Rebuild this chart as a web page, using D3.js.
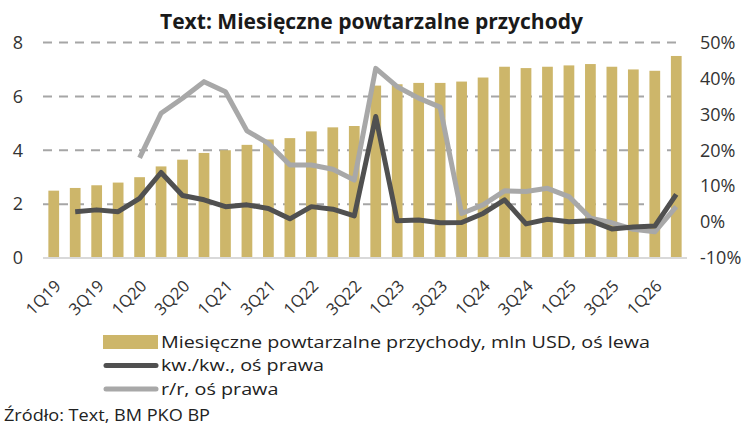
<!DOCTYPE html>
<html>
<head>
<meta charset="utf-8">
<script src="https://cdn.jsdelivr.net/npm/d3@7"></script>
<style>
  body { margin: 0; background: #fff; }
  text { font-family: "Open Sans", "Noto Sans", sans-serif; }
</style>
</head>
<body>
<div id="chart"></div>
<script>
// quarters 1Q19 .. 2Q26
var quarters = [];
[19, 20, 21, 22, 23, 24, 25, 26].forEach(function (y) {
  [1, 2, 3, 4].forEach(function (q) {
    if (y === 26 && q > 2) return;
    quarters.push(q + "Q" + y);
  });
});

// monthly recurring revenue, mln USD (left axis)
var revenue = [2.5, 2.6, 2.7, 2.8, 3.0, 3.4, 3.65, 3.9, 4.0, 4.2,
  4.4, 4.45, 4.7, 4.85, 4.9, 6.4, 6.45, 6.5, 6.5, 6.55,
  6.7, 7.1, 7.05, 7.1, 7.15, 7.2, 7.1, 7.0, 6.95, 7.5];

// q/q change, % (right axis)
var qoq = [null, 2.9, 3.4, 2.9, 6.6, 13.8, 7.4, 6.2, 4.3, 4.8,
  3.8, 0.9, 4.3, 3.6, 1.7, 29.4, 0.4, 0.6, -0.2, -0.1,
  2.4, 6.2, -0.5, 0.8, 0.1, 0.4, -1.9, -1.4, -1.1, 7.7];

// y/y change, % (right axis)
var yoy = [null, null, null, null, 17.9, 30.3, 34.5, 39.1, 36.3, 25.4,
  21.9, 15.9, 15.9, 14.7, 11.7, 42.8, 37.7, 34.5, 32.0, 2.4,
  4.8, 8.7, 8.5, 9.4, 7.1, 1.1, -0.2, -2.0, -2.7, 4.3];

var leftTicks = [0, 2, 4, 6, 8];
var rightTicks = [-10, 0, 10, 20, 30, 40, 50];

var legendLabels = [
  "Miesięczne powtarzalne przychody, mln USD, oś lewa",
  "kw./kw., oś prawa",
  "r/r, oś prawa"
];

var svgWidth = 753;
var svgHeight = 425;

var svg = d3.select("#chart")
  .append("svg")
  .attr("width", svgWidth)
  .attr("height", svgHeight);

var barColor = "#cdb66a";
var darkLine = "#505050";
var lightLine = "#a8a8a8";

// scales
var x = d3.scaleBand()
  .domain(quarters)
  .range([43, 687])
  .paddingInner(0.5)
  .paddingOuter(0.25);

var yLeft = d3.scaleLinear().domain([0, 8]).range([258, 42.5]);
var yRight = d3.scaleLinear().domain([-10, 50]).range([258, 42.5]);

// title
svg.append("text")
  .attr("x", 160)
  .attr("y", 29)
  .attr("textLength", 423)
  .attr("lengthAdjust", "spacingAndGlyphs")
  .style("font-size", "21px")
  .style("font-weight", "bold")
  .style("fill", "#1a1a1a")
  .text("Text: Miesięczne powtarzalne przychody");

// gridlines
svg.append("g")
  .selectAll("line")
  .data(leftTicks.filter(d => d > 0))
  .enter()
  .append("line")
  .attr("x1", 43)
  .attr("x2", 682)
  .attr("y1", d => yLeft(d))
  .attr("y2", d => yLeft(d))
  .attr("stroke", "#a6a6a6")
  .attr("stroke-width", 2)
  .attr("stroke-dasharray", "9,7");

// bars
svg.append("g")
  .selectAll("rect")
  .data(revenue)
  .enter()
  .append("rect")
  .attr("x", (d, i) => x(quarters[i]))
  .attr("width", x.bandwidth())
  .attr("y", d => yLeft(d))
  .attr("height", d => yLeft(0) - yLeft(d))
  .attr("fill", barColor);

// baseline
svg.append("line")
  .attr("x1", 43)
  .attr("x2", 687)
  .attr("y1", yLeft(0))
  .attr("y2", yLeft(0))
  .attr("stroke", "#d9d9d9")
  .attr("stroke-width", 2);

// lines
var line = d3.line()
  .defined(d => d != null)
  .x((d, i) => x(quarters[i]) + x.bandwidth() / 2)
  .y(d => yRight(d));

svg.append("path")
  .datum(yoy)
  .attr("d", line)
  .attr("fill", "none")
  .attr("stroke", lightLine)
  .attr("stroke-width", 5)
  .attr("stroke-linejoin", "round");

svg.append("path")
  .datum(qoq)
  .attr("d", line)
  .attr("fill", "none")
  .attr("stroke", darkLine)
  .attr("stroke-width", 5)
  .attr("stroke-linejoin", "round");

// left axis labels
var leftAxis = d3.axisLeft(yLeft).tickValues(leftTicks).tickSize(0).tickPadding(0);
var gl = svg.append("g")
  .attr("transform", "translate(23,0)")
  .call(leftAxis);
gl.select(".domain").remove();
gl.selectAll("text")
  .style("font-size", "18px")
  .style("font-family", "'Open Sans', sans-serif")
  .attr("fill", "#333");

// right axis labels
var rightAxis = d3.axisRight(yRight).tickValues(rightTicks).tickSize(0).tickPadding(0)
  .tickFormat(d => d + "%");
var gr = svg.append("g")
  .attr("transform", "translate(700,0)")
  .call(rightAxis);
gr.select(".domain").remove();
gr.selectAll("text")
  .style("font-size", "18px")
  .style("font-family", "'Open Sans', sans-serif")
  .attr("fill", "#333");

// x labels, every second quarter
svg.append("g")
  .selectAll("text")
  .data(quarters.filter((d, i) => i % 2 === 0))
  .enter()
  .append("text")
  .attr("transform", d => `translate(${x(d) + x.bandwidth() / 2}, 279) rotate(-45)`)
  .attr("text-anchor", "end")
  .attr("dy", "0.7em")
  .style("font-size", "16.5px")
  .style("fill", "#333")
  .text(d => d);

// legend
var legend = svg.append("g");
var stretch = 1;
legendLabels.forEach(function (lab, i) {
  var yy = 342 + i * 23.5;
  if (i === 0) {
    legend.append("rect")
      .attr("x", 103)
      .attr("y", yy - 7)
      .attr("width", 55)
      .attr("height", 14)
      .attr("fill", barColor);
  } else {
    legend.append("line")
      .attr("x1", 106)
      .attr("x2", 156)
      .attr("y1", yy)
      .attr("y2", yy)
      .attr("stroke", i === 1 ? darkLine : lightLine)
      .attr("stroke-width", 5)
      .attr("stroke-linecap", "round");
  }
  var t = legend.append("text")
    .attr("x", 161)
    .attr("y", yy)
    .attr("dy", "0.35em")
    .style("font-size", "17px")
    .style("fill", "#222")
    .text(lab);
  // reference font is wider: stretch rows so the first one ends near x=650
  var w = t.node().getComputedTextLength();
  if (i === 0) stretch = 489 / w;
  t.attr("textLength", w * stretch).attr("lengthAdjust", "spacingAndGlyphs");
});

// source
svg.append("text")
  .attr("x", 4)
  .attr("y", 421)
  .attr("textLength", 206)
  .attr("lengthAdjust", "spacingAndGlyphs")
  .style("font-size", "16px")
  .style("fill", "#222")
  .text("Źródło: Text, BM PKO BP");
</script>
</body>
</html>
